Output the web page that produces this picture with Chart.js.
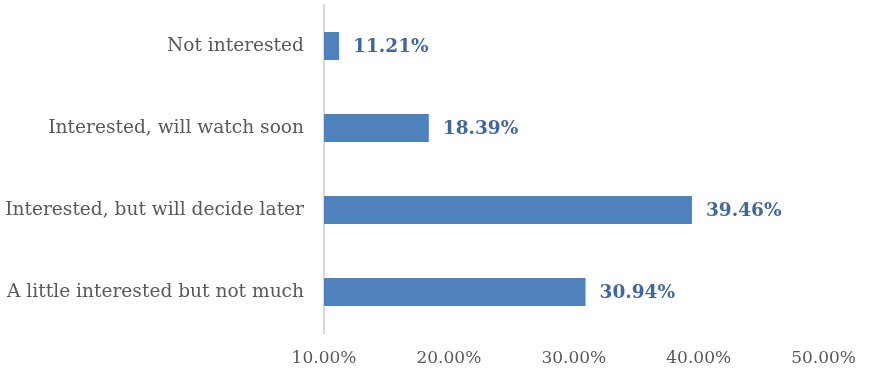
<!DOCTYPE html>
<html>
<head>
<meta charset="utf-8">
<script src="https://cdn.jsdelivr.net/npm/chart.js@4"></script>
<style>
  html, body { margin: 0; padding: 0; background: #ffffff; }
  #wrap { width: 871px; height: 378px; }
</style>
</head>
<body>
<div id="wrap"><canvas id="chart" width="871" height="378"></canvas></div>
<script>
// Survey responses: level of interest
const categories = [
  'Not interested',
  'Interested, will watch soon',
  'Interested, but will decide later',
  'A little interested but not much'
];
const shares = [11.21, 18.39, 39.46, 30.94];
const xTicks = [10, 20, 30, 40, 50];

const FONT = '"DejaVu Serif", "Liberation Serif", serif';
const BAR = '#4f81bd';
const LABEL = '#41679f';

// Value labels to the right of each bar
const valueLabels = {
  id: 'valueLabels',
  afterDatasetsDraw(chart) {
    const ctx = chart.ctx;
    const meta = chart.getDatasetMeta(0);
    ctx.save();
    ctx.font = 'bold 18.5px ' + FONT;
    ctx.fillStyle = LABEL;
    ctx.textAlign = 'left';
    ctx.textBaseline = 'middle';
    meta.data.forEach((bar, i) => {
      ctx.fillText(shares[i].toFixed(2) + '%', bar.x + 14, bar.y + 1);
    });
    ctx.restore();
  }
};

new Chart(document.getElementById('chart'), {
  type: 'bar',
  data: {
    labels: categories,
    datasets: [{
      data: shares,
      base: 10,
      backgroundColor: BAR,
      borderWidth: 0,
      barPercentage: 0.342,
      categoryPercentage: 1
    }]
  },
  options: {
    indexAxis: 'y',
    responsive: false,
    animation: false,
    devicePixelRatio: 1,
    layout: { padding: { top: 5, right: 47, left: 0, bottom: 0 } },
    plugins: { legend: { display: false }, tooltip: { enabled: false } },
    scales: {
      x: {
        min: 10,
        max: 50,
        afterBuildTicks(scale) { scale.ticks = xTicks.map(v => ({ value: v })); },
        afterFit(scale) { scale.height = 45; },
        grid: { display: false, drawTicks: false },
        border: { display: false },
        ticks: {
          padding: 15,
          color: '#595959',
          font: { family: FONT, size: 17 },
          callback: v => v.toFixed(2) + '%'
        }
      },
      y: {
        afterFit(scale) {
          scale.width = 324;
          scale.paddingTop = 0;
          scale.paddingBottom = 0;
        },
        grid: { display: false, drawTicks: false },
        border: { display: true, color: '#d9d9d9', width: 2 },
        ticks: {
          padding: 20,
          color: '#595959',
          font: { family: FONT, size: 18.6 }
        }
      }
    }
  },
  plugins: [valueLabels]
});
</script>
</body>
</html>
